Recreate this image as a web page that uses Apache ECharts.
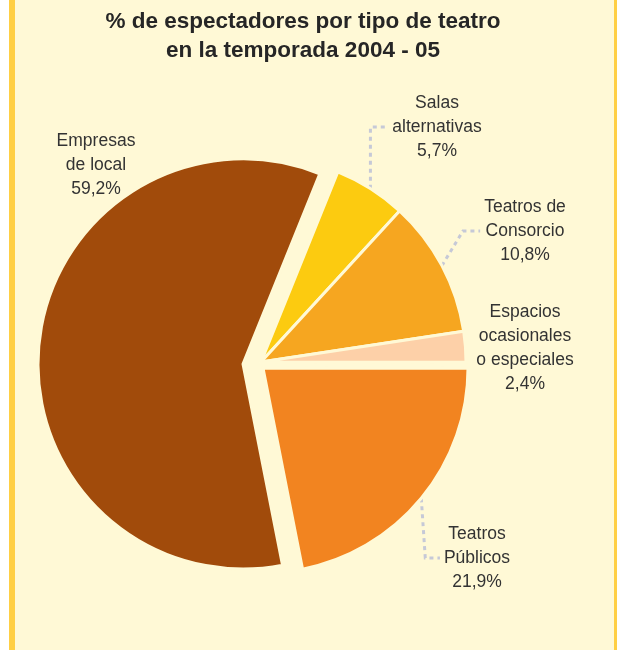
<!DOCTYPE html>
<html>
<head>
	<meta charset="utf-8">
	<title>% de espectadores por tipo de teatro</title>
	<script src="https://cdn.jsdelivr.net/npm/echarts@6/dist/echarts.min.js"></script>
	<style>
		html, body { margin: 0; padding: 0; background: #ffffff; overflow: hidden; }
		#frame {
			position: absolute; left: 9px; top: 0; width: 599px; height: 650px;
			background: #fff9d6;
			border-left: 6px solid #ffcf44; border-right: 6px solid #ffcf44;
		}
		#chart { position: absolute; left: 0; top: 0; width: 617px; height: 650px; }
	</style>
</head>
<body>
	<div id="frame"></div>
	<div id="chart"></div>
	<script>
		// datos (orden horario desde arriba)
		var categories = ['Salas\nalternativas', 'Teatros de\nConsorcio', 'Espacios\nocasionales\no especiales', 'Teatros\nPúblicos', 'Empresas\nde local'];
		var shares = [5.7, 10.8, 2.4, 21.9, 59.2];
		var colors = ['#fccb10', '#f6a620', '#fdd0a8', '#f28420', '#a14b0b'];

		// cada grupo es un pie con su propio centro (porciones separadas)
		var groupOf = [1, 1, 1, 2, 0];
		var centers = [[243, 364], [261, 362], [263, 368]];
		var labelPos = [[437, 127], [525, 231], [525, 348], [477, 558], [96, 165]];
		var leaderBend = [0, 21, null, 4, null]; // null = sin línea guía

		var chart = echarts.init(document.getElementById('chart'));

		function placeLabel(params) {
			var i = params.dataIndex;
			var pos = labelPos[i];
			var out = { x: pos[0], y: pos[1], align: 'center', verticalAlign: 'middle' };
			var pts = params.labelLinePoints;
			if (leaderBend[i] !== null && pts) {
				var p0 = pts[0];
				var left = pos[0] - params.labelRect.width / 2 - 4;
				out.labelLinePoints = [p0, [p0[0] + leaderBend[i], pos[1]], [left, pos[1]]];
			}
			return out;
		}

		function buildSeries(g) {
			var data = categories.map(function(name, i) {
				var visible = groupOf[i] === g;
				return {
					name: name,
					value: shares[i],
					itemStyle: visible ? { color: colors[i] } : { opacity: 0 },
					label: { show: visible },
					labelLine: { show: visible && leaderBend[i] !== null }
				};
			});
			return {
				type: 'pie',
				center: centers[g],
				radius: 205,
				startAngle: 68,
				clockwise: true,
				avoidLabelOverlap: false,
				silent: true,
				animation: false,
				itemStyle: { borderColor: '#fff9d6', borderWidth: 3 },
				label: {
					position: 'outside',
					fontFamily: 'Liberation Sans',
					fontSize: 17.5,
					lineHeight: 24,
					color: '#333333',
					formatter: function(p) {
						return p.name + '\n' + String(p.value).replace('.', ',') + '%';
					}
				},
				labelLine: {
					length: 10,
					length2: 10,
					lineStyle: { color: '#c6c9d7', width: 3, type: [4, 4] }
				},
				labelLayout: placeLabel,
				emphasis: { disabled: true },
				data: data
			};
		}

		var option = {
			backgroundColor: 'transparent',
			title: {
				text: '% de espectadores por tipo de teatro\nen la temporada 2004 - 05',
				left: 303,
				top: 7,
				padding: 0,
				textAlign: 'center',
				textStyle: {
					fontFamily: 'Liberation Sans',
					fontSize: 22.5,
					fontWeight: 'bold',
					lineHeight: 29,
					color: '#262626'
				}
			},
			series: [buildSeries(0), buildSeries(1), buildSeries(2)]
		};
		chart.setOption(option);
	</script>
</body>
</html>
